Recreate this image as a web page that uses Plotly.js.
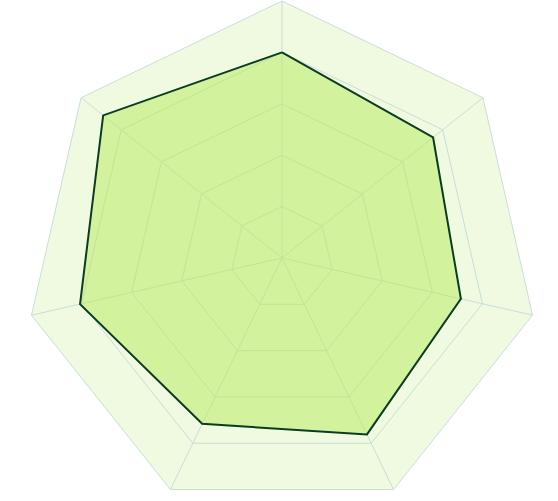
<!DOCTYPE html>
<html>
<head>
<meta charset="utf-8">
<script src="https://cdn.plot.ly/plotly-3.0.1.min.js"></script>
<style>html,body{margin:0;padding:0;overflow:hidden;background:#fff;}</style>
</head>
<body>
<div id="chart"></div>
<script>
const categories = ["A", "B", "C", "D", "E", "F", "G"];
const values = [4.0, 3.76, 3.57, 3.81, 3.58, 4.03, 4.45];
const radialTicks = [0, 1, 2, 3, 4, 5];

const theta = categories.concat([categories[0]]);
const r = values.concat([values[0]]);

const trace = {
  type: "scatterpolar",
  r: r,
  theta: theta,
  mode: "lines",
  fill: "toself",
  fillcolor: "rgba(184,234,91,0.5)",
  line: {color: "#0b3b22", width: 2},
  hoverinfo: "skip"
};

const layout = {
  width: 558,
  height: 515,
  margin: {l: 6, r: 0, t: 1, b: 0, pad: 0},
  paper_bgcolor: "#ffffff",
  showlegend: false,
  polar: {
    gridshape: "linear",
    bgcolor: "#effae1",
    domain: {x: [0, 1], y: [0, 1]},
    radialaxis: {
      range: [radialTicks[0], radialTicks[radialTicks.length - 1]],
      tickvals: radialTicks,
      showticklabels: false,
      ticks: "",
      showline: false,
      gridcolor: "#c9ded8",
      gridwidth: 1
    },
    angularaxis: {
      type: "category",
      categoryarray: categories,
      direction: "clockwise",
      rotation: 90,
      showticklabels: false,
      ticks: "",
      showline: true,
      linecolor: "#c9ded8",
      linewidth: 1,
      gridcolor: "#c9ded8",
      gridwidth: 1
    }
  }
};

Plotly.newPlot("chart", [trace], layout, {displayModeBar: false, staticPlot: true});
</script>
</body>
</html>
